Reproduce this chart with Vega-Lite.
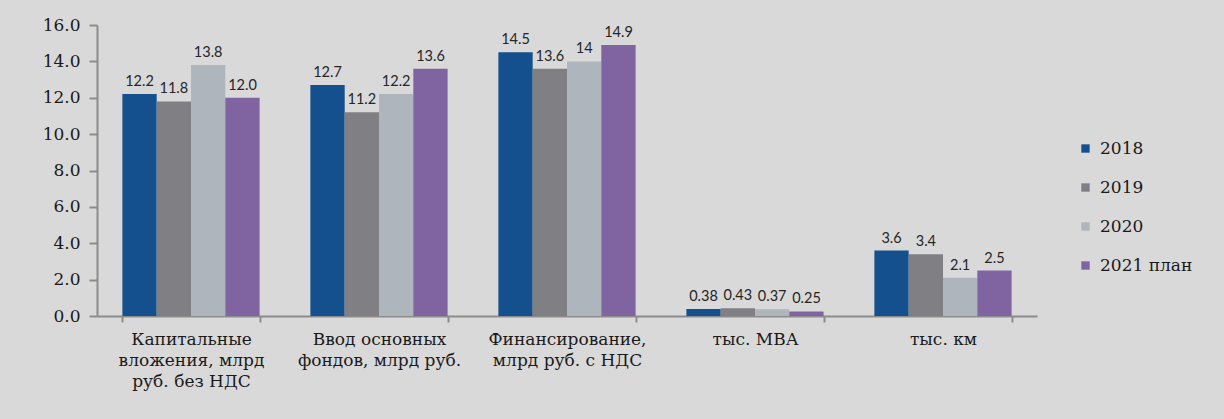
{
  "$schema": "https://vega.github.io/schema/vega-lite/v6.json",
  "width": 940,
  "height": 291,
  "autosize": {"type": "none"},
  "padding": {"left": 97, "top": 25, "right": 187, "bottom": 103},
  "background": "#d9d9d9",
  "config": {
    "view": {"stroke": null},
    "axis": {"grid": false}
  },
  "data": {
    "values": [
      {"cat": "Капитальные|вложения, млрд|руб. без НДС", "year": "2018", "value": 12.2, "label": "12.2"},
      {"cat": "Капитальные|вложения, млрд|руб. без НДС", "year": "2019", "value": 11.8, "label": "11.8"},
      {"cat": "Капитальные|вложения, млрд|руб. без НДС", "year": "2020", "value": 13.8, "label": "13.8"},
      {"cat": "Капитальные|вложения, млрд|руб. без НДС", "year": "2021 план", "value": 12.0, "label": "12.0"},
      {"cat": "Ввод основных|фондов, млрд руб.", "year": "2018", "value": 12.7, "label": "12.7"},
      {"cat": "Ввод основных|фондов, млрд руб.", "year": "2019", "value": 11.2, "label": "11.2"},
      {"cat": "Ввод основных|фондов, млрд руб.", "year": "2020", "value": 12.2, "label": "12.2"},
      {"cat": "Ввод основных|фондов, млрд руб.", "year": "2021 план", "value": 13.6, "label": "13.6"},
      {"cat": "Финансирование,|млрд руб. с НДС", "year": "2018", "value": 14.5, "label": "14.5"},
      {"cat": "Финансирование,|млрд руб. с НДС", "year": "2019", "value": 13.6, "label": "13.6"},
      {"cat": "Финансирование,|млрд руб. с НДС", "year": "2020", "value": 14.0, "label": "14"},
      {"cat": "Финансирование,|млрд руб. с НДС", "year": "2021 план", "value": 14.9, "label": "14.9"},
      {"cat": "тыс. МВА", "year": "2018", "value": 0.38, "label": "0.38"},
      {"cat": "тыс. МВА", "year": "2019", "value": 0.43, "label": "0.43"},
      {"cat": "тыс. МВА", "year": "2020", "value": 0.37, "label": "0.37"},
      {"cat": "тыс. МВА", "year": "2021 план", "value": 0.25, "label": "0.25"},
      {"cat": "тыс. км", "year": "2018", "value": 3.6, "label": "3.6"},
      {"cat": "тыс. км", "year": "2019", "value": 3.4, "label": "3.4"},
      {"cat": "тыс. км", "year": "2020", "value": 2.1, "label": "2.1"},
      {"cat": "тыс. км", "year": "2021 план", "value": 2.5, "label": "2.5"}
    ]
  },
  "encoding": {
    "x": {
      "field": "cat", "type": "nominal", "sort": null, "title": null,
      "scale": {"paddingInner": 0.27, "paddingOuter": 0.135},
      "axis": {
        "labelAngle": 0, "labelExpr": "split(datum.label, '|')",
        "labelFont": "DejaVu Serif", "labelFontSize": 17, "labelColor": "#1a1a1a",
        "labelLineHeight": 21, "labelPadding": 9, "labelBaseline": "top",
        "tickBand": "extent", "tickSize": 6, "tickColor": "#8c8c8c",
        "domainColor": "#8c8c8c", "domainWidth": 2, "tickWidth": 2
      }
    },
    "xOffset": {"field": "year", "type": "nominal", "scale": {"paddingInner": 0}},
    "y": {
      "field": "value", "type": "quantitative", "title": null,
      "scale": {"domain": [0, 16], "nice": false},
      "axis": {
        "values": [0, 2, 4, 6, 8, 10, 12, 14, 16], "format": ".1f",
        "labelFont": "DejaVu Serif", "labelFontSize": 17, "labelColor": "#1a1a1a",
        "labelPadding": 9, "tickSize": 8, "tickColor": "#8c8c8c", "tickWidth": 2,
        "domainColor": "#8c8c8c", "domainWidth": 2
      }
    }
  },
  "layer": [
    {
      "mark": {"type": "bar"},
      "encoding": {
        "color": {
          "field": "year", "type": "nominal", "title": null,
          "scale": {"domain": ["2018", "2019", "2020", "2021 план"], "range": ["#144f8e", "#7f7f84", "#aeb5bc", "#8064a2"]},
          "legend": {
            "orient": "none", "legendX": 980, "legendY": 115,
            "symbolType": "square", "symbolSize": 70, "symbolStrokeWidth": 0,
            "labelFont": "DejaVu Serif", "labelFontSize": 17, "labelColor": "#1a1a1a",
            "rowPadding": 21, "labelOffset": 6
          }
        }
      }
    },
    {
      "mark": {"type": "text", "baseline": "bottom", "dy": -5, "font": "Lato", "fontSize": 14.5, "color": "#262626"},
      "encoding": {"text": {"field": "label"}}
    }
  ]
}
